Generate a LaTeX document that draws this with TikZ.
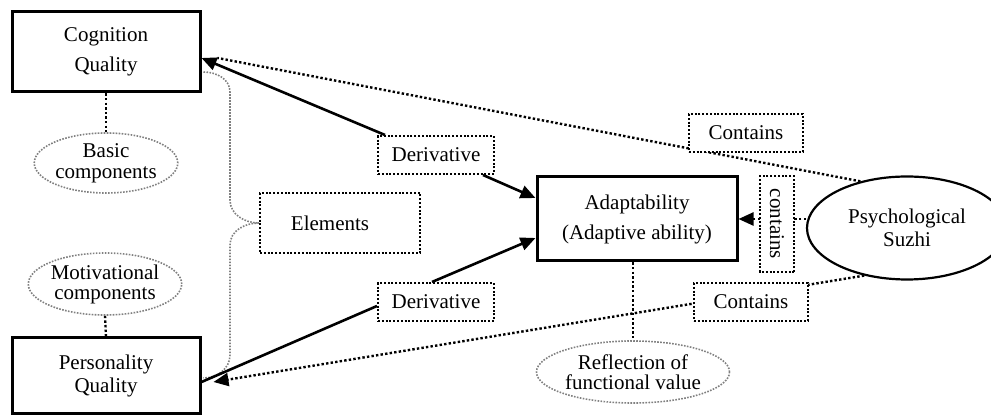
\documentclass[tikz,border=0pt]{standalone}
\usepackage{fontspec}
\setmainfont{Liberation Serif}
\usetikzlibrary{arrows.meta,shapes.geometric,backgrounds}
\begin{document}
\begin{tikzpicture}[x=0.5pt,y=-0.5pt,
  every node/.style={font=\fontsize{10.5}{12}\selectfont, align=center, inner sep=0pt},
  thickbox/.style={draw, line width=1.5pt},
  dotbox/.style={draw, line width=1pt, dash pattern=on 1pt off 0.9pt, fill=white},
  grayell/.style={ellipse, draw=gray, line width=0.8pt, dash pattern=on 0.8pt off 0.7pt},
  blackell/.style={ellipse, draw, line width=1.1pt},
  dotline/.style={line width=1.2pt, dash pattern=on 1.2pt off 1.1pt},
  graydot/.style={draw=gray, line width=0.8pt, dash pattern=on 0.8pt off 0.7pt},
  solidarrow/.style={line width=1.3pt},
  tip/.style={-{Triangle[length=7.5pt,width=6.5pt]}}
]
\useasboundingbox (0,0) rectangle (991,415);
\clip (0,0) rectangle (991,415);

% main boxes
\node[thickbox, minimum width=94pt, minimum height=40pt, font=\fontsize{10.5}{15}\selectfont] (cog) at (106,52) {Cognition\\Quality};
\node[thickbox, minimum width=94pt, minimum height=38pt, font=\fontsize{10.5}{11.5}\selectfont] (pers) at (106,376) {Personality\\Quality};
\node[thickbox, minimum width=100pt, minimum height=42pt, font=\fontsize{10.5}{15}\selectfont] (adapt) at (637,219) {Adaptability\\(Adaptive ability)};
\node[blackell, minimum width=100pt, minimum height=51.5pt, font=\fontsize{10.5}{11.5}\selectfont] (psych) at (907,228) {Psychological\\Suzhi};

% ellipses
\node[grayell, minimum width=71pt, minimum height=30pt, font=\fontsize{10.5}{10.5}\selectfont] (basic) at (106,163) {Basic\\components};
\node[grayell, minimum width=72pt, minimum height=31pt, font=\fontsize{10.5}{10}\selectfont] (motiv) at (105,284) {Motivational\\components};
\node[grayell, minimum width=96.5pt, minimum height=31pt, font=\fontsize{10.5}{10}\selectfont] (refl) at (633,372) {Reflection of\\functional value};

% label boxes
\node[dotbox, minimum width=80pt, minimum height=30pt] (elem) at (340,223) {Elements\hspace*{10pt}};
\node[dotbox, minimum width=58pt, minimum height=19pt] (d1) at (436,155) {Derivative};
\node[dotbox, minimum width=58pt, minimum height=19pt] (d2) at (436,302) {Derivative};
\node[dotbox, minimum width=57pt, minimum height=19pt] (c1) at (746,133) {Contains};
\node[dotbox, minimum width=57pt, minimum height=19pt] (c2) at (751,302) {Contains};
\node[dotbox, rotate=-90, minimum width=48pt, minimum height=17pt] (cv) at (777,224) {contains};

\begin{pgfonlayer}{background}
% vertical dotted links
\draw[dotline] (cog.south) -- (basic.north);
\draw[dotline] (motiv.south) -- (pers.north);
\draw[dotline] (refl.north |- adapt.south) -- (refl.north);

% brace
\draw[graydot] ([xshift=1pt,yshift=-10pt]cog.east) to[out=0,in=90] (230,92) -- (230,200) to[out=270,in=180] (elem.west);
\draw[graydot] (elem.west) to[out=180,in=90] (230,245) -- (230,355) to[out=270,in=0] ([xshift=1pt,yshift=-1pt]pers.east);

% derivative arrows
\draw[solidarrow, tip] ([xshift=4pt]d1.north west) -- ([yshift=-3pt]cog.east);
\draw[solidarrow, tip] ([xshift=-6pt]d1.south east) -- ([yshift=10.5pt]adapt.west);
\draw[solidarrow, tip] ([xshift=-2pt]d2.north) -- ([yshift=-9.5pt]adapt.west);
\draw[solidarrow] ([yshift=-2pt]d2.west) -- ([yshift=-3pt]pers.east);

% contains links
\draw[dotline] (psych.135) -- ([xshift=8pt,yshift=-3pt]cog.east);
\draw[dotline, tip] (psych.228) -- ([xshift=6pt,yshift=-3pt]pers.east);
\draw[dotline, tip] (adapt.east -| psych.west) -- (adapt.east);
\end{pgfonlayer}
\end{tikzpicture}
\end{document}
